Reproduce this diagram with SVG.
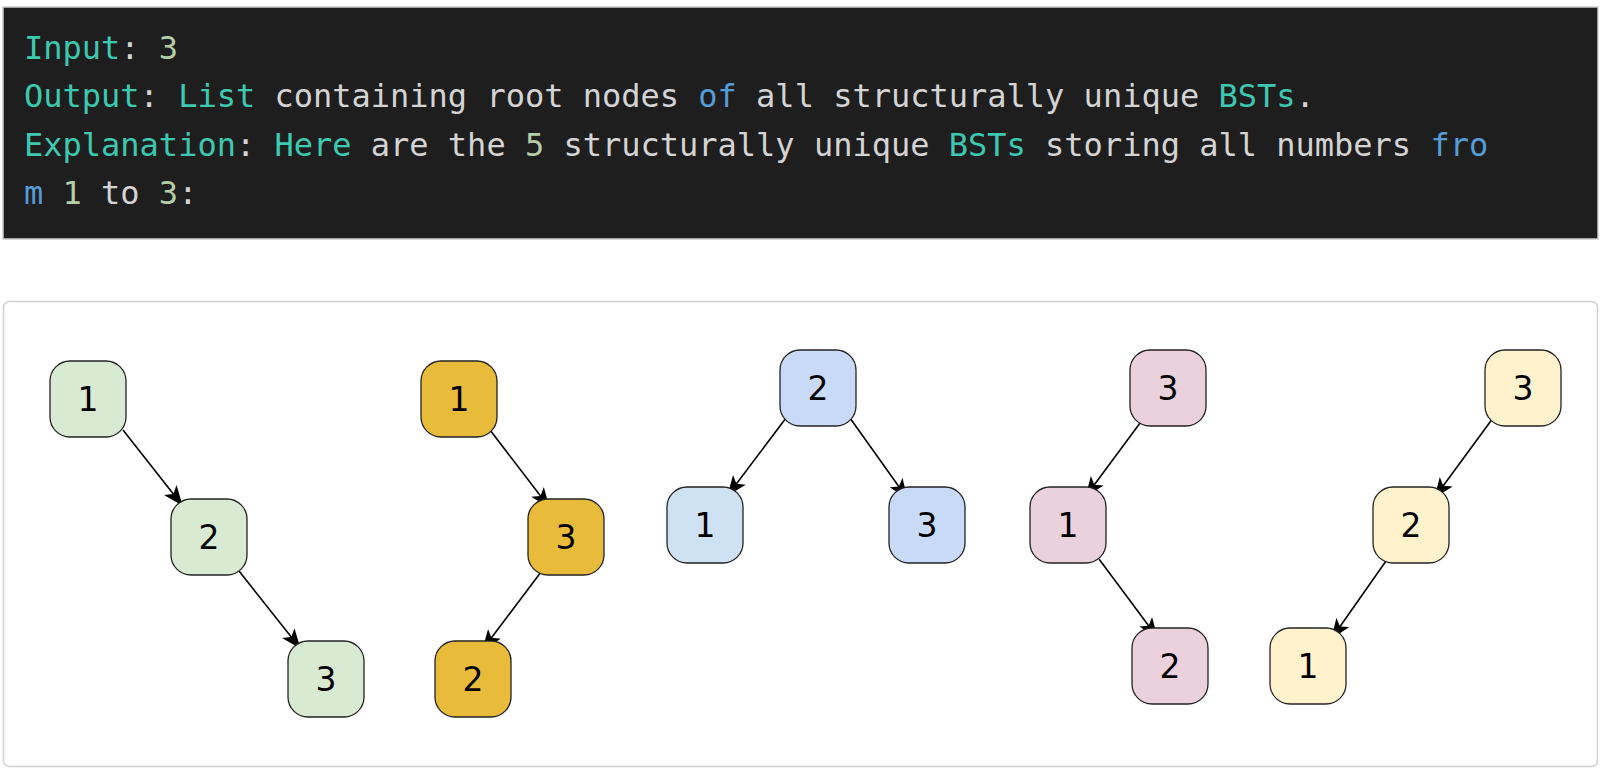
<svg xmlns="http://www.w3.org/2000/svg" width="1610" height="778" viewBox="0 0 1610 778">
<defs>
<marker id="arr" viewBox="0 0 20 16" refX="19" refY="8" markerWidth="20" markerHeight="16" markerUnits="userSpaceOnUse" orient="auto">
<path d="M0,0 L20,8 L0,16 L5,8 z" fill="#000"/>
</marker>
<style>
.code{font-family:"DejaVu Sans Mono","Liberation Mono",monospace;font-size:32px;fill:#d4d4d4}
.t{fill:#3dc9b0}.n{fill:#b5cea8}.k{fill:#569cd6}
.node rect{stroke:#222;stroke-width:1.3}
.node text{font-family:"DejaVu Sans","Liberation Sans",sans-serif;font-size:33px;fill:#000;text-anchor:middle;dominant-baseline:central}
.edge{stroke:#000;stroke-width:1.6;fill:none;marker-end:url(#arr)}
.g{fill:#d9ead3}.y{fill:#e8bc3a}.b1{fill:#cfe2f3}.b2{fill:#c9daf8}.p{fill:#ead1dc}.l{fill:#fff2cc}
</style>
</defs>
<rect x="3" y="7" width="1595" height="232" fill="#1e1e1e" stroke="#cccccc" stroke-width="1.5"/>
<g class="code" xml:space="preserve">
<text x="24" y="59"><tspan class="t">Input</tspan>: <tspan class="n">3</tspan></text>
<text x="24" y="107"><tspan class="t">Output</tspan>: <tspan class="t">List</tspan> containing root nodes <tspan class="k">of</tspan> all structurally unique <tspan class="t">BSTs</tspan>.</text>
<text x="24" y="156"><tspan class="t">Explanation</tspan>: <tspan class="t">Here</tspan> are the <tspan class="n">5</tspan> structurally unique <tspan class="t">BSTs</tspan> storing all numbers <tspan class="k">fro</tspan></text>
<text x="24" y="204"><tspan class="k">m</tspan> <tspan class="n">1</tspan> to <tspan class="n">3</tspan>:</text>
</g>
<rect x="3.5" y="301.5" width="1594" height="465" rx="6" fill="#ffffff" stroke="#d0d0d4" stroke-width="1.5"/>
<g id="connectors">
<line class="edge" x1="123" y1="430" x2="182" y2="505"/>
<line class="edge" x1="239" y1="571" x2="300" y2="648"/>
<line class="edge" x1="490" y1="430" x2="549" y2="507"/>
<line class="edge" x1="541" y1="572" x2="483" y2="649"/>
<line class="edge" x1="786" y1="418" x2="728" y2="495"/>
<line class="edge" x1="850" y1="418" x2="907" y2="498"/>
<line class="edge" x1="1143" y1="419" x2="1086" y2="496"/>
<line class="edge" x1="1099" y1="559" x2="1157" y2="637"/>
<line class="edge" x1="1493" y1="418" x2="1435" y2="497"/>
<line class="edge" x1="1386" y1="561" x2="1332" y2="638"/>
</g>
<g id="t1n1" class="node"><rect class="g" x="50" y="361" width="76" height="76" rx="20"/><text x="88" y="399">1</text></g>
<g id="t1n2" class="node"><rect class="g" x="171" y="499" width="76" height="76" rx="20"/><text x="209" y="537">2</text></g>
<g id="t1n3" class="node"><rect class="g" x="288" y="641" width="76" height="76" rx="20"/><text x="326" y="679">3</text></g>
<g id="t2n1" class="node"><rect class="y" x="421" y="361" width="76" height="76" rx="20"/><text x="459" y="399">1</text></g>
<g id="t2n3" class="node"><rect class="y" x="528" y="499" width="76" height="76" rx="20"/><text x="566" y="537">3</text></g>
<g id="t2n2" class="node"><rect class="y" x="435" y="641" width="76" height="76" rx="20"/><text x="473" y="679">2</text></g>
<g id="t3n2" class="node"><rect class="b2" x="780" y="350" width="76" height="76" rx="20"/><text x="818" y="388">2</text></g>
<g id="t3n1" class="node"><rect class="b1" x="667" y="487" width="76" height="76" rx="20"/><text x="705" y="525">1</text></g>
<g id="t3n3" class="node"><rect class="b2" x="889" y="487" width="76" height="76" rx="20"/><text x="927" y="525">3</text></g>
<g id="t4n3" class="node"><rect class="p" x="1130" y="350" width="76" height="76" rx="20"/><text x="1168" y="388">3</text></g>
<g id="t4n1" class="node"><rect class="p" x="1030" y="487" width="76" height="76" rx="20"/><text x="1068" y="525">1</text></g>
<g id="t4n2" class="node"><rect class="p" x="1132" y="628" width="76" height="76" rx="20"/><text x="1170" y="666">2</text></g>
<g id="t5n3" class="node"><rect class="l" x="1485" y="350" width="76" height="76" rx="20"/><text x="1523" y="388">3</text></g>
<g id="t5n2" class="node"><rect class="l" x="1373" y="487" width="76" height="76" rx="20"/><text x="1411" y="525">2</text></g>
<g id="t5n1" class="node"><rect class="l" x="1270" y="628" width="76" height="76" rx="20"/><text x="1308" y="666">1</text></g>
</svg>
